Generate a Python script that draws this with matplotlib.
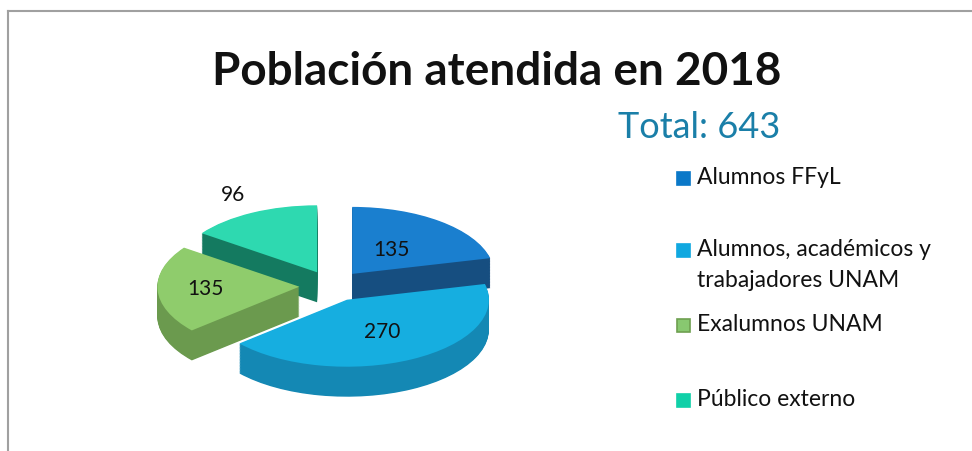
import matplotlib.pyplot as plt
from matplotlib.lines import Line2D
from matplotlib.patches import Rectangle
import numpy as np

labels = ['Alumnos FFyL', 'Alumnos, académicos y\ntrabajadores UNAM',
          'Exalumnos UNAM', 'Público externo']
values = [135, 270, 135, 96]
total = 643

top_colors = ['#1a7fcf', '#16aee0', '#8fcc6c', '#2ed9b0']
side_colors = ['#164e80', '#1488b4', '#6b9a4e', '#147a60']
legend_colors = ['#0a78c8', '#10a8e0', '#88c870', '#10d0a8']

W, H = 972, 451
fig = plt.figure(figsize=(W / 100, H / 100), dpi=100)
plt.rcParams['font.family'] = ['Lato', 'DejaVu Sans']

# frame lines (top and left)
fig.add_artist(Line2D([8 / W, 1], [1 - 11 / H, 1 - 11 / H], color='#a0a0a0', lw=1.5))
fig.add_artist(Line2D([8 / W, 8 / W], [0, 1 - 11 / H], color='#a0a0a0', lw=1.5))

# pie axes, pixel geometry
cx, cy, R, ry = 332, 286, 142, 67
x0, x1, y0, y1 = 130, 530, 170, 420
ax = fig.add_axes([x0 / W, 1 - y1 / H, (x1 - x0) / W, (y1 - y0) / H])

explode = [0.23] * 4
depth = 30 / ry
nlayers = 40
for k in range(nlayers, 0, -1):
    ax.pie(values, explode=explode, startangle=90, counterclock=False,
           colors=side_colors, center=(0, -depth * k / nlayers),
           wedgeprops=dict(linewidth=0))
ax.pie(values, explode=explode, startangle=90, counterclock=False,
       colors=top_colors, wedgeprops=dict(linewidth=0))

ax.set_aspect('auto')
ax.set_xlim((x0 - cx) / R, (x1 - cx) / R)
ax.set_ylim((cy - y1) / ry, (cy - y0) / ry)
ax.axis('off')

# value labels
label_dist = [0.45, 0.55, 0.66, 1.3]
ang = 90.0
for v, d in zip(values, label_dist):
    span = 360.0 * v / sum(values)
    mid = np.deg2rad(ang - span / 2)
    ang -= span
    x = (0.23 + d) * np.cos(mid)
    y = (0.23 + d) * np.sin(mid)
    ax.text(x, y, str(v), ha='center', va='center', fontsize=15, color='#111111')

# titles
fig.text(497 / W, 1 - 72 / H, 'Población atendida en 2018', ha='center', va='center',
         fontsize=33, fontweight='bold', color='#111111')
fig.text(780 / W, 1 - 127 / H, f'Total: {total}', ha='right', va='center',
         fontsize=26, color='#1a7fa8')

# legend
leg_y = [178, 250, 325, 400]
for lab, col, yy in zip(labels, legend_colors, leg_y):
    ec = '#6ea050' if col == '#88c870' else col
    fig.add_artist(Rectangle((677 / W, 1 - (yy + 7) / H), 13 / W, 13 / H,
                             facecolor=col, edgecolor=ec, lw=1.2,
                             transform=fig.transFigure))
    fig.text(697 / W, 1 - (yy - 11) / H, lab, ha='left', va='top',
             fontsize=16.5, color='#111111', linespacing=1.6)

fig.savefig('out.png', dpi=100)
